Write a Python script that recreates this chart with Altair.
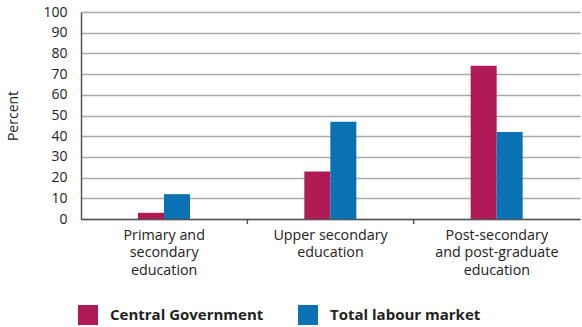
import altair as alt
import pandas as pd

categories = ["Primary and|secondary|education", "Upper secondary|education", "Post-secondary|and post-graduate|education"]
series = ["Central Government", "Total labour market"]
central_gov = [3, 23, 74]
total_labour = [12, 47, 42]
colors = ["#B01A55", "#0A71B3"]

rows = []
for c, a, b in zip(categories, central_gov, total_labour):
    rows.append({"cat": c, "series": series[0], "value": a})
    rows.append({"cat": c, "series": series[1], "value": b})
df = pd.DataFrame(rows)
sep_df = pd.DataFrame({"cat": categories[1:]})

FONT = "Open Sans"
W, H = 499, 207

xscale = alt.Scale(domain=categories, paddingInner=0, paddingOuter=0)

bars = alt.Chart(df).mark_bar(size=26).encode(
    x=alt.X("cat:N", scale=xscale, sort=categories, title=None,
            axis=alt.Axis(labelExpr="split(datum.label, '|')", labelAngle=0,
                          labelFontSize=14.3, labelColor="#222", labelFont=FONT,
                          labelPadding=9, labelLineHeight=17.5, ticks=False,
                          domainColor="#555", domainWidth=1.5, labelBaseline="top")),
    xOffset=alt.XOffset("series:N", sort=series,
                        scale=alt.Scale(range=[57, 109], paddingInner=0, paddingOuter=0)),
    y=alt.Y("value:Q", scale=alt.Scale(domain=[0, 100]), title="Percent",
            axis=alt.Axis(values=list(range(0, 101, 10)), labelFontSize=14, labelColor="#222",
                          labelFont=FONT, titleFont=FONT, titleFontSize=14, titleFontWeight="normal",
                          titleColor="#222", titlePadding=22, ticks=False, labelPadding=14,
                          grid=True, gridColor="#AAAAAA", gridWidth=1.5,
                          domainColor="#555", domainWidth=1.5)),
    color=alt.Color("series:N", sort=series, scale=alt.Scale(domain=series, range=colors),
                    legend=alt.Legend(title=None, orient="none", legendX=-3, legendY=293,
                                      direction="horizontal", symbolType="square", symbolSize=400,
                                      symbolStrokeWidth=0, labelFont=FONT, labelFontSize=15,
                                      labelFontWeight="bold", labelColor="#222", labelOffset=12,
                                      columnPadding=34, labelLimit=300)),
)

seps = alt.Chart(sep_df).mark_rule(color="#555", strokeWidth=1.5).encode(
    x=alt.X("cat:N", scale=xscale, sort=categories, bandPosition=0),
    y=alt.value(H),
    y2=alt.value(H + 5),
)

chart = alt.layer(bars, seps).properties(
    width=W, height=H,
    autosize=alt.AutoSizeParams(type="none"),
    padding={"left": 81, "top": 12, "right": 2, "bottom": 108},
).configure_view(stroke=None)

chart.save("out.html", embed_options={"renderer": "svg", "actions": False})
